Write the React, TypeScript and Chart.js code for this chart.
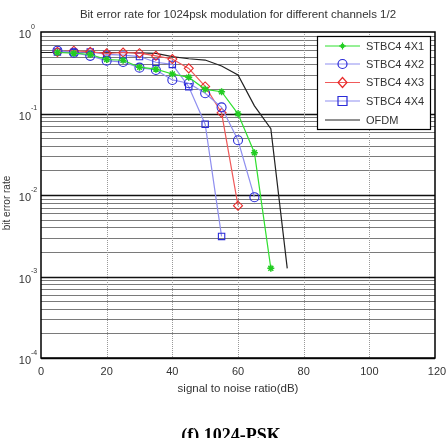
import React, { useEffect, useRef } from "react";
import { Chart, registerables } from "chart.js";

Chart.register(...registerables);

const titleText = "Bit error rate for 1024psk modulation for different channels 1/2";
const xLabel = "signal to noise ratio(dB)";
const yLabel = "bit error rate";
const caption = "(f) 1024-PSK";

const xTicks = [0, 20, 40, 60, 80, 100, 120];
const yExponents = [0, -1, -2, -3, -4];

const snr4x1 = [5, 10, 15, 20, 25, 30, 35, 40, 45, 50, 55, 60, 65, 70];
const ber4x1 = [0.56, 0.55, 0.53, 0.46, 0.45, 0.37, 0.35, 0.305, 0.278, 0.198, 0.185, 0.099, 0.033, 0.00126];

const snr4x2 = [5, 10, 15, 20, 25, 30, 35, 40, 45, 50, 55, 60, 65];
const ber4x2 = [0.59, 0.557, 0.51, 0.445, 0.428, 0.365, 0.342, 0.258, 0.235, 0.177, 0.119, 0.047, 0.0094];

const snr4x3 = [5, 10, 15, 20, 25, 30, 35, 40, 45, 50, 55, 60];
const ber4x3 = [0.57, 0.59, 0.57, 0.547, 0.56, 0.55, 0.51, 0.466, 0.358, 0.215, 0.102, 0.0074];

const snr4x4 = [5, 10, 15, 20, 25, 30, 35, 40, 45, 50, 55];
const ber4x4 = [0.57, 0.56, 0.57, 0.53, 0.52, 0.5, 0.425, 0.4, 0.213, 0.074, 0.0031];

const snrOfdm = [0, 5, 10, 15, 20, 25, 30, 35, 40, 45, 50, 55, 60, 65, 70, 75];
const berOfdm = [0.56, 0.56, 0.56, 0.56, 0.56, 0.56, 0.555, 0.547, 0.5, 0.47, 0.453, 0.383, 0.297, 0.124, 0.065, 0.00126];

const labels = ["STBC4 4X1", "STBC4 4X2", "STBC4 4X3", "STBC4 4X4", "OFDM"];

const FONT = "'Liberation Sans', Arial, sans-serif";

function toPts(xs: number[], ys: number[]) {
  return xs.map((x, i) => ({ x, y: ys[i] }));
}

function drawMarker(ctx: CanvasRenderingContext2D, kind: string, x: number, y: number, color: string) {
  ctx.save();
  ctx.strokeStyle = color;
  ctx.fillStyle = color;
  ctx.lineWidth = 1.2;
  ctx.beginPath();
  if (kind === "circle") {
    ctx.arc(x, y, 4.5, 0, Math.PI * 2);
    ctx.stroke();
  } else if (kind === "rectRot") {
    ctx.moveTo(x, y - 5);
    ctx.lineTo(x + 4.5, y);
    ctx.lineTo(x, y + 5);
    ctx.lineTo(x - 4.5, y);
    ctx.closePath();
    ctx.stroke();
  } else if (kind === "rect") {
    ctx.rect(x - 4.5, y - 4.5, 9, 9);
    ctx.stroke();
  } else if (kind === "star") {
    ctx.arc(x, y, 2.2, 0, Math.PI * 2);
    ctx.fill();
    ctx.beginPath();
    ctx.moveTo(x - 3.5, y);
    ctx.lineTo(x + 3.5, y);
    ctx.moveTo(x, y - 3.5);
    ctx.lineTo(x, y + 3.5);
    ctx.stroke();
  }
  ctx.restore();
}

const decorPlugin = {
  id: "decor",
  beforeDatasetsDraw(chart: any) {
    const { ctx, chartArea, scales } = chart;
    const xs = scales.x;
    const ys = scales.y;
    ctx.save();
    for (let k = -4; k <= -1; k++) {
      for (let m = 1; m <= 9; m++) {
        const v = m * Math.pow(10, k);
        const y = Math.round(ys.getPixelForValue(v)) + 0.5;
        ctx.beginPath();
        ctx.strokeStyle = m === 1 ? "#111" : "#7a7a7a";
        ctx.lineWidth = m === 1 ? 1.6 : 1;
        ctx.moveTo(chartArea.left, y);
        ctx.lineTo(chartArea.right, y);
        ctx.stroke();
      }
    }
    ctx.setLineDash([1, 1]);
    ctx.strokeStyle = "#999";
    ctx.lineWidth = 1;
    for (const t of xTicks) {
      if (t === 0 || t === 120) continue;
      const x = Math.round(xs.getPixelForValue(t)) + 0.5;
      ctx.beginPath();
      ctx.moveTo(x, chartArea.top);
      ctx.lineTo(x, chartArea.bottom);
      ctx.stroke();
    }
    ctx.restore();
  },
  afterDraw(chart: any) {
    const { ctx, chartArea, scales } = chart;
    const xs = scales.x;
    const ys = scales.y;
    ctx.save();
    ctx.strokeStyle = "#000";
    ctx.lineWidth = 1.5;
    ctx.strokeRect(chartArea.left, chartArea.top, chartArea.right - chartArea.left, chartArea.bottom - chartArea.top);

    ctx.fillStyle = "#333";
    ctx.font = `11px ${FONT}`;
    ctx.textAlign = "center";
    ctx.textBaseline = "middle";
    for (const t of xTicks) {
      ctx.fillText(String(t), xs.getPixelForValue(t) + (t === 120 ? 2 : 0), chartArea.bottom + 14);
    }
    for (const e of yExponents) {
      const y = ys.getPixelForValue(Math.pow(10, e));
      ctx.font = `11px ${FONT}`;
      ctx.textAlign = "right";
      ctx.textBaseline = "middle";
      ctx.fillText("10", chartArea.left - 10, y + 3);
      ctx.font = `7px ${FONT}`;
      ctx.textAlign = "left";
      ctx.fillText(String(e), chartArea.left - 10, y - 5);
    }
    ctx.font = `11.5px ${FONT}`;
    ctx.textAlign = "center";
    ctx.fillText(titleText, (chartArea.left + chartArea.right) / 2, 15);
    ctx.font = `11.5px ${FONT}`;
    ctx.fillText(xLabel, (chartArea.left + chartArea.right) / 2, 389);
    ctx.save();
    ctx.translate(7, 203);
    ctx.rotate(-Math.PI / 2);
    ctx.font = `10px ${FONT}`;
    ctx.fillText(yLabel, 0, 0);
    ctx.restore();

    const lx = 317.5, ly = 36.5, lw = 113, lh = 93;
    ctx.fillStyle = "#fff";
    ctx.fillRect(lx, ly, lw, lh);
    ctx.strokeStyle = "#000";
    ctx.lineWidth = 1.2;
    ctx.strokeRect(lx, ly, lw, lh);
    const rows = [46, 64, 82.5, 101, 120];
    chart.data.datasets.forEach((ds: any, i: number) => {
      const y = rows[i];
      ctx.strokeStyle = ds.borderColor;
      ctx.lineWidth = 1;
      ctx.beginPath();
      ctx.moveTo(325, y);
      ctx.lineTo(360, y);
      ctx.stroke();
      if (ds.markerKind) drawMarker(ctx, ds.markerKind, 342.5, y, ds.pointBorderColor);
      ctx.fillStyle = "#333";
      ctx.font = `11px ${FONT}`;
      ctx.textAlign = "left";
      ctx.textBaseline = "middle";
      ctx.fillText(ds.label, 366, y + 0.5);
    });

    ctx.fillStyle = "#000";
    ctx.font = `bold 18px 'Liberation Serif', 'Times New Roman', serif`;
    ctx.textAlign = "center";
    ctx.textBaseline = "alphabetic";
    ctx.fillText(caption, 231, 441);
    ctx.restore();
  },
};

export default function App() {
  const ref = useRef<HTMLCanvasElement | null>(null);
  useEffect(() => {
    document.body.style.margin = "0";
    const canvas = ref.current;
    if (!canvas) return;
    const chart = new Chart(canvas, {
      type: "line",
      data: {
        datasets: [
          {
            label: labels[0],
            data: toPts(snr4x1, ber4x1),
            borderColor: "#2fe02f",
            borderWidth: 1.2,
            pointStyle: "star",
            pointRadius: 3.5,
            pointBorderColor: "#22cc22",
            pointBackgroundColor: "#22cc22",
            pointBorderWidth: 1.5,
            markerKind: "star",
          } as any,
          {
            label: labels[1],
            data: toPts(snr4x2, ber4x2),
            borderColor: "#8f8ff0",
            borderWidth: 1.2,
            pointStyle: "circle",
            pointRadius: 4.5,
            pointBorderColor: "#2a2ad8",
            pointBackgroundColor: "rgba(0,0,0,0)",
            pointBorderWidth: 1.1,
            markerKind: "circle",
          } as any,
          {
            label: labels[2],
            data: toPts(snr4x3, ber4x3),
            borderColor: "#f05a5a",
            borderWidth: 1.2,
            pointStyle: "rectRot",
            pointRadius: 4.5,
            pointBorderColor: "#e82a2a",
            pointBackgroundColor: "rgba(0,0,0,0)",
            pointBorderWidth: 1.1,
            markerKind: "rectRot",
          } as any,
          {
            label: labels[3],
            data: toPts(snr4x4, ber4x4),
            borderColor: "#8f8ff0",
            borderWidth: 1.2,
            pointStyle: "rect",
            pointRadius: 4.5,
            pointBorderColor: "#2a2ad8",
            pointBackgroundColor: "rgba(0,0,0,0)",
            pointBorderWidth: 1.1,
            markerKind: "rect",
          } as any,
          {
            label: labels[4],
            data: toPts(snrOfdm, berOfdm),
            borderColor: "#222",
            borderWidth: 1.2,
            pointRadius: 0,
            markerKind: "",
          } as any,
        ],
      },
      options: {
        animation: false,
        responsive: false,
        devicePixelRatio: 1,
        layout: { padding: { left: 41, right: 12, top: 32, bottom: 80 } },
        plugins: { legend: { display: false }, title: { display: false }, tooltip: { enabled: false } },
        elements: { line: { tension: 0 } },
        scales: {
          x: {
            type: "linear",
            min: 0,
            max: 120,
            ticks: { display: false },
            grid: { display: false, drawTicks: false },
            border: { display: false },
          },
          y: {
            type: "logarithmic",
            min: 1e-4,
            max: 1,
            ticks: { display: false },
            grid: { display: false, drawTicks: false },
            border: { display: false },
          },
        },
      },
      plugins: [decorPlugin],
    });
    return () => chart.destroy();
  }, []);
  return (
    <div style={{ width: 447, height: 438, background: "#fff" }}>
      <canvas ref={ref} width={447} height={438} style={{ display: "block", background: "#fff" }} />
    </div>
  );
}
